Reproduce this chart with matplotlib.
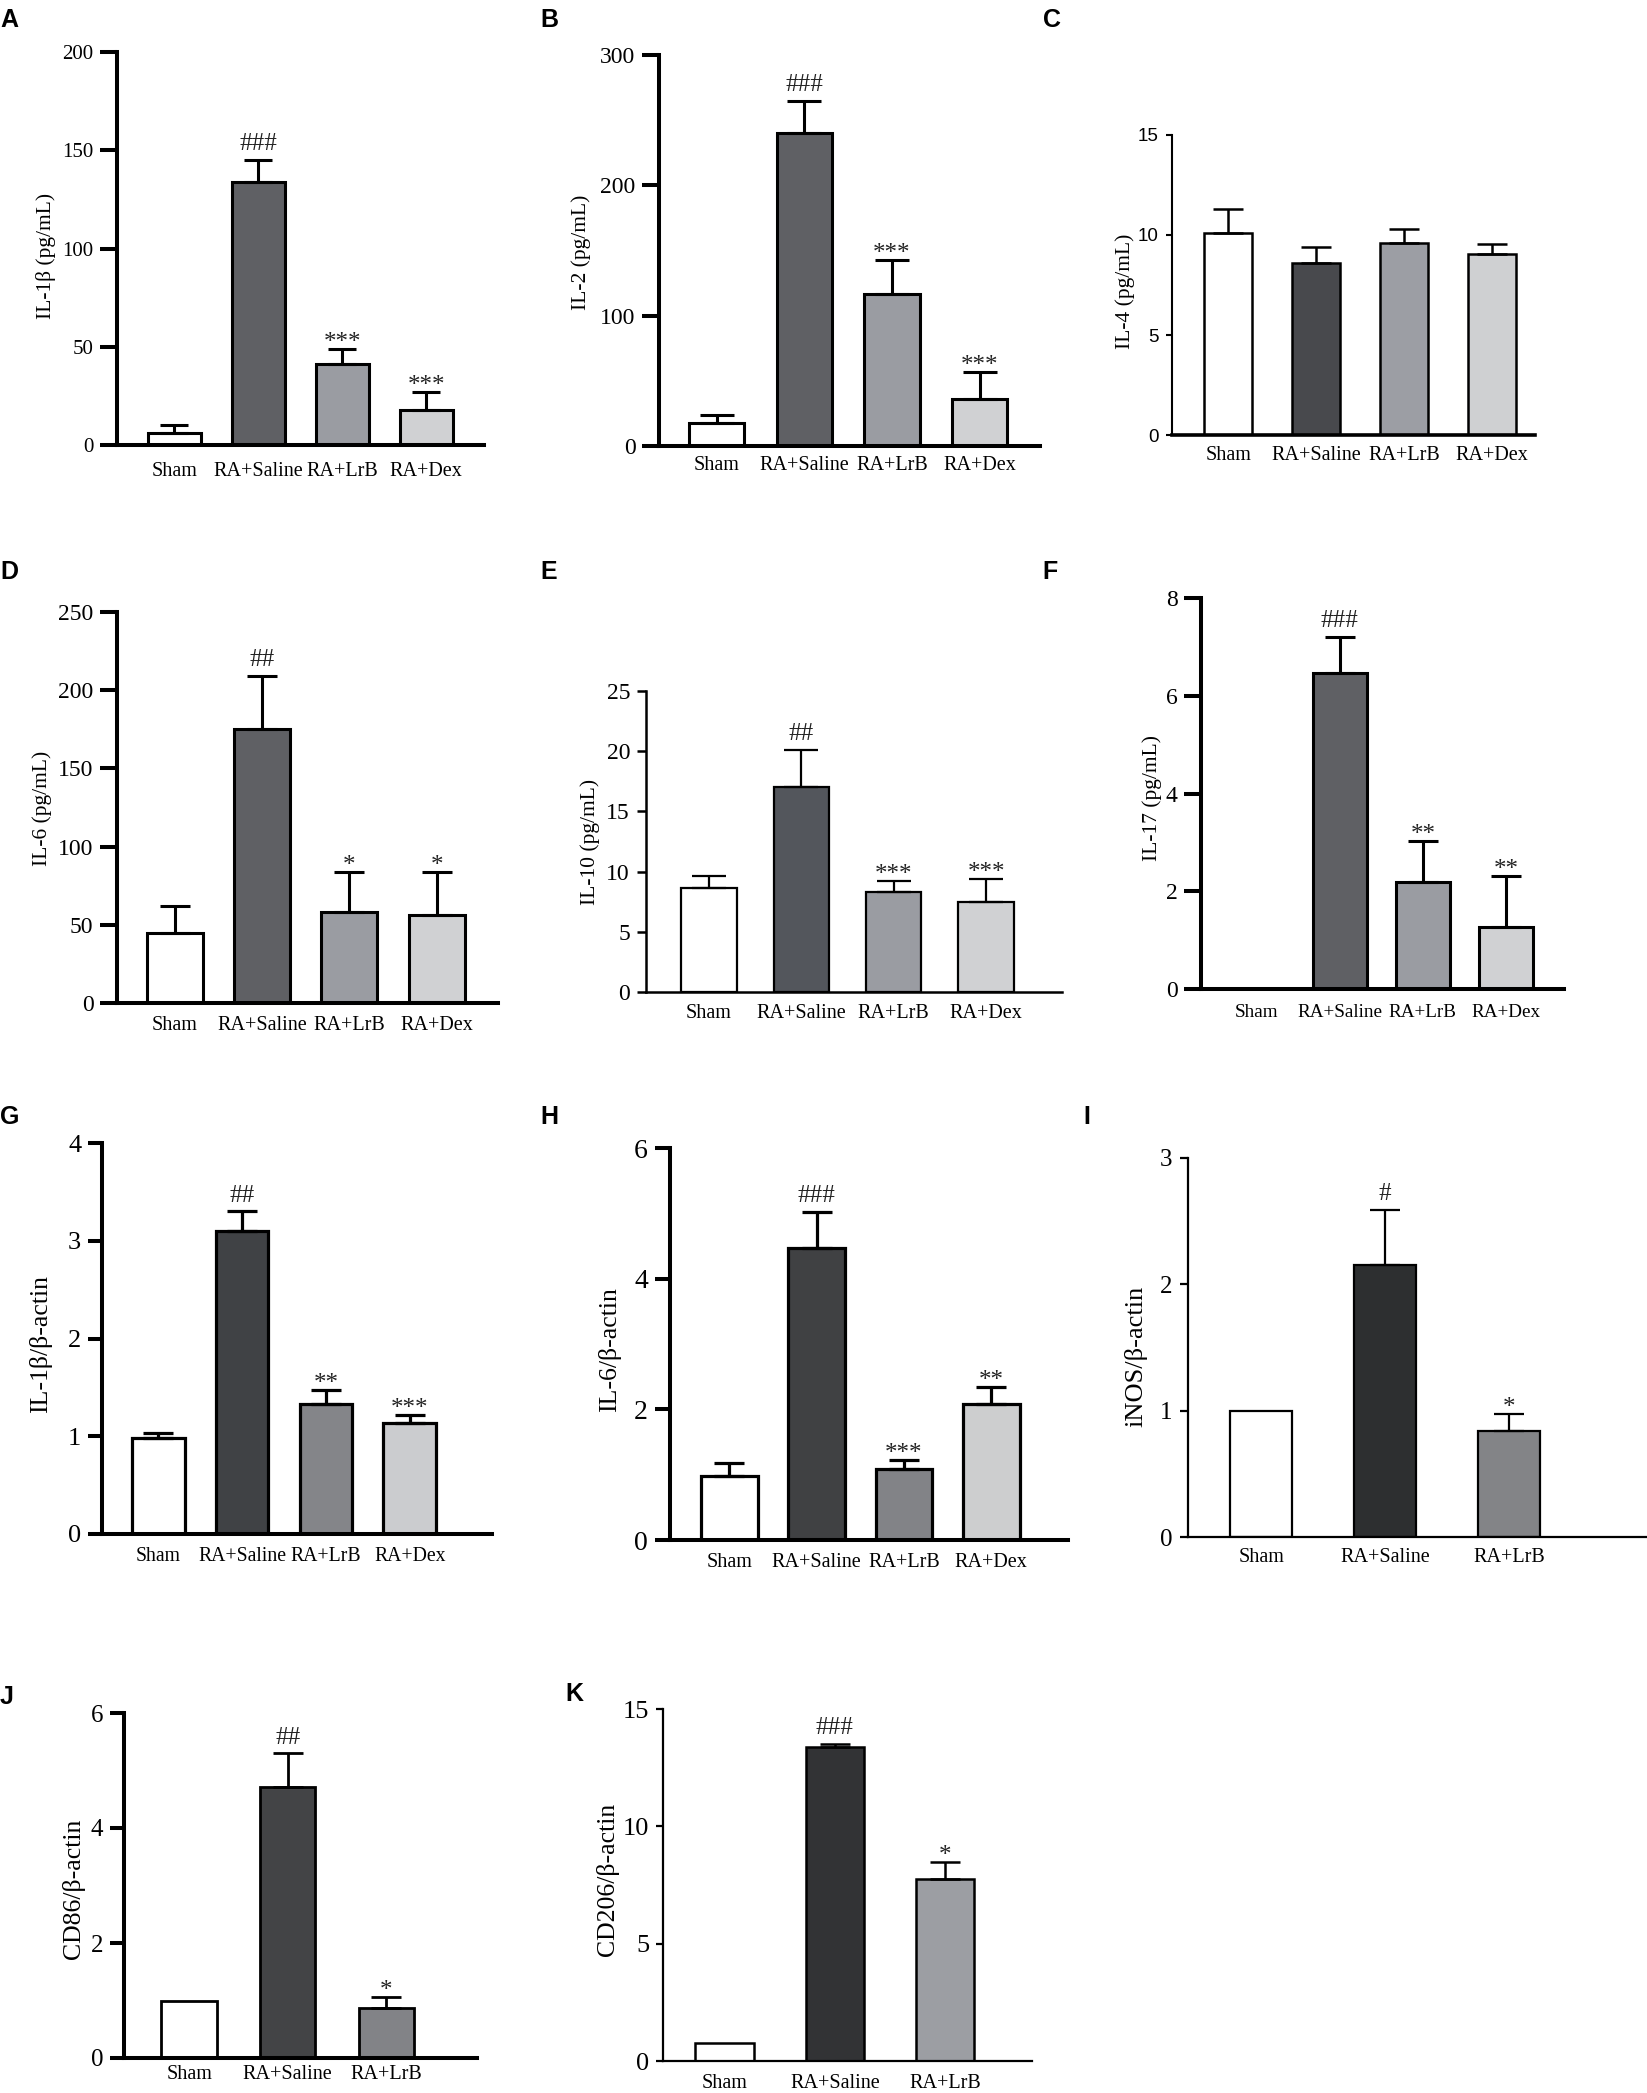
import numpy as np
import matplotlib
matplotlib.use("Agg")
import matplotlib.pyplot as plt

plt.rcParams['font.family'] = ['Liberation Serif', 'DejaVu Serif']

# ---- data ----
groups4 = ["Sham", "RA+Saline", "RA+LrB", "RA+Dex"]
groups3 = ["Sham", "RA+Saline", "RA+LrB"]

il1b_mean = [6, 134, 41, 18]
il1b_err = [4, 11, 8, 9]
il1b_sig = ["", "###", "***", "***"]

il2_mean = [18, 240, 117, 36]
il2_err = [6, 25, 26, 21]
il2_sig = ["", "###", "***", "***"]

il4_mean = [10.1, 8.6, 9.6, 9.05]
il4_err = [1.2, 0.8, 0.7, 0.5]
il4_sig = ["", "", "", ""]

il6_mean = [45, 175, 58, 56]
il6_err = [17, 34, 26, 28]
il6_sig = ["", "##", "*", "*"]

il10_mean = [8.6, 17.0, 8.3, 7.5]
il10_err = [1.0, 3.1, 0.9, 1.9]
il10_sig = ["", "##", "***", "***"]

il17_mean = [0, 6.46, 2.19, 1.27]
il17_err = [0, 0.74, 0.84, 1.04]
il17_sig = ["", "###", "**", "**"]

il1b_rel_mean = [0.98, 3.10, 1.33, 1.14]
il1b_rel_err = [0.05, 0.20, 0.14, 0.08]
il1b_rel_sig = ["", "##", "**", "***"]

il6_rel_mean = [0.98, 4.47, 1.09, 2.08]
il6_rel_err = [0.20, 0.55, 0.13, 0.26]
il6_rel_sig = ["", "###", "***", "**"]

inos_mean = [1.0, 2.15, 0.84]
inos_err = [0, 0.44, 0.13]
inos_sig = ["", "#", "*"]

cd86_mean = [1.0, 4.71, 0.87]
cd86_err = [0, 0.59, 0.19]
cd86_sig = ["", "##", "*"]

cd206_mean = [0.77, 13.38, 7.75]
cd206_err = [0, 0.12, 0.73]
cd206_sig = ["", "###", "*"]

W, H = 1647, 2093
fig = plt.figure(figsize=(W / 100, H / 100), dpi=100)

gray_a = ["white", "#5f6064", "#9a9ca2", "#d0d1d3"]

# letter, ylabel, data, ticks, box (left, top, right, zero) px, xlim, bar width,
# colors, spine lw, bar lw, tick length, tick font, label centre, cap size, x label pad
panels = [
    dict(letter="A", lpos=(0, 8), ylabel="IL-1β (pg/mL)", labc=(46, 256), g=groups4,
         m=il1b_mean, e=il1b_err, s=il1b_sig, ticks=[0, 50, 100, 150, 200],
         box=(117, 52, 484, 445), xlim=(-0.68, 3.69), bw=0.63, c=gray_a,
         slw=2.9, blw=2.2, tl=12, tfs=15, lfs=15.5, cs=10, xpad=12),
    dict(letter="B", lpos=(540, 8), ylabel="IL-2 (pg/mL)", labc=(581, 252), g=groups4,
         m=il2_mean, e=il2_err, s=il2_sig, ticks=[0, 100, 200, 300],
         box=(659, 55, 1040, 446), xlim=(-0.66, 3.69), bw=0.63, c=gray_a,
         slw=2.9, blw=2.2, tl=12, tfs=17, lfs=15.5, cs=12, xpad=7),
    dict(letter="C", lpos=(1043, 8), ylabel="IL-4 (pg/mL)", labc=(1125, 291), g=groups4,
         m=il4_mean, e=il4_err, s=il4_sig, ticks=[0, 5, 10, 15],
         box=(1172, 135, 1535, 435), xlim=(-0.64, 3.49), bw=0.55,
         c=["white", "#48494d", "#9c9ea4", "#cfd0d2"],
         slw=1.5, blw=1.8, tl=4.5, tfs=13.5, lfs=15.5, cs=11, xpad=8, sans=True),
    dict(letter="D", lpos=(0, 560), ylabel="IL-6 (pg/mL)", labc=(42, 808), g=groups4,
         m=il6_mean, e=il6_err, s=il6_sig, ticks=[0, 50, 100, 150, 200, 250],
         box=(117, 612, 498, 1003), xlim=(-0.66, 3.70), bw=0.64, c=gray_a,
         slw=2.9, blw=2.2, tl=12, tfs=17, lfs=15.5, cs=11, xpad=9.5),
    dict(letter="E", lpos=(540, 560), ylabel="IL-10 (pg/mL)", labc=(590, 842), g=groups4,
         m=il10_mean, e=il10_err, s=il10_sig, ticks=[0, 5, 10, 15, 20, 25],
         box=(646, 691, 1062, 992), xlim=(-0.68, 3.82), bw=0.60,
         c=["white", "#53565c", "#9a9ca2", "#d0d1d3"],
         slw=1.8, blw=1.6, tl=6.5, tfs=17, lfs=15.5, cs=12, xpad=9),
    dict(letter="F", lpos=(1042, 560), ylabel="IL-17 (pg/mL)", labc=(1152, 798), g=groups4,
         m=il17_mean, e=il17_err, s=il17_sig, ticks=[0, 2, 4, 6, 8],
         box=(1201, 598, 1564, 989), xlim=(-0.67, 3.70), bw=0.65, c=gray_a,
         slw=2.9, blw=2.2, tl=12, tfs=17, lfs=15.5, cs=10.5, xpad=11, xfs=13.8),
    dict(letter="G", lpos=(0, 1105), ylabel="IL-1β/β-actin", labc=(41, 1344), g=groups4,
         m=il1b_rel_mean, e=il1b_rel_err, s=il1b_rel_sig, ticks=[0, 1, 2, 3, 4],
         box=(102, 1143, 492, 1534), xlim=(-0.67, 3.98), bw=0.63,
         c=["white", "#404245", "#848589", "#cbcccf"],
         slw=2.9, blw=2.3, tl=10, tfs=19, lfs=18.5, cs=11, xpad=9.5, xfs=14.2),
    dict(letter="H", lpos=(540, 1105), ylabel="IL-6/β-actin", labc=(610, 1350), g=groups4,
         m=il6_rel_mean, e=il6_rel_err, s=il6_rel_sig, ticks=[0, 2, 4, 6],
         box=(670, 1148, 1068, 1540), xlim=(-0.68, 3.88), bw=0.65,
         c=["white", "#404143", "#828387", "#cdcecf"],
         slw=2.9, blw=2.3, tl=11, tfs=20, lfs=18.5, cs=11, xpad=9.5),
    dict(letter="I", lpos=(1083, 1105), ylabel="iNOS/β-actin", labc=(1136, 1356), g=groups3,
         m=inos_mean, e=inos_err, s=inos_sig, ticks=[0, 1, 2, 3],
         box=(1188, 1158, 1647, 1537), xlim=(-0.59, 3.11), bw=0.50,
         c=["white", "#2d2f30", "#838487"],
         slw=1.6, blw=1.6, tl=6, tfs=18, lfs=19, cs=11, xpad=8),
    dict(letter="J", lpos=(0, 1685), ylabel="CD86/β-actin", labc=(74, 1889), g=groups3,
         m=cd86_mean, e=cd86_err, s=cd86_sig, ticks=[0, 2, 4, 6],
         box=(124, 1713, 477, 2058), xlim=(-0.66, 2.92), bw=0.56,
         c=["white", "#434446", "#828387"],
         slw=2.9, blw=2.0, tl=10, tfs=18, lfs=18.5, cs=11, xpad=5),
    dict(letter="K", lpos=(565, 1682), ylabel="CD206/β-actin", labc=(608, 1879), g=groups3,
         m=cd206_mean, e=cd206_err, s=cd206_sig, ticks=[0, 5, 10, 15],
         box=(663, 1709, 1032, 2061), xlim=(-0.56, 2.79), bw=0.53,
         c=["white", "#323335", "#9c9ea3"],
         slw=1.6, blw=1.8, tl=5, tfs=19, lfs=18.5, cs=11, xpad=9.5),
]

for p in panels:
    l, t, r, b = p["box"]
    ax = fig.add_axes([l / W, 1 - b / H, (r - l) / W, (b - t) / H])
    x = np.arange(len(p["g"]))
    m = np.array(p["m"], dtype=float)
    e = np.array(p["e"], dtype=float)

    ax.bar(x, m, width=p["bw"], color=p["c"], edgecolor="black",
           linewidth=p["blw"], zorder=2)
    k = e > 0
    ax.errorbar(x[k], m[k], yerr=[np.zeros(k.sum()), e[k]], fmt="none",
                ecolor="black", elinewidth=p["blw"], capsize=p["cs"],
                capthick=p["blw"], zorder=3)

    for xi, top, mark in zip(x, m + e, p["s"]):
        if not mark:
            continue
        dy = 7 if "#" in mark else 0
        ax.annotate(mark, (xi, top), xytext=(0, dy), textcoords="offset points",
                    ha="center", va="baseline", fontsize=18, color="#222222")

    ax.set_xlim(*p["xlim"])
    ax.set_ylim(0, p["ticks"][-1])
    ax.set_yticks(p["ticks"])
    ax.set_xticks(x)
    ax.set_xticklabels(p["g"], fontsize=p.get("xfs", 14.5))
    if p.get("sans"):
        ax.set_yticklabels([str(v) for v in p["ticks"]], fontsize=p["tfs"],
                           family="Liberation Sans")
    else:
        ax.set_yticklabels([str(v) for v in p["ticks"]], fontsize=p["tfs"])

    for side in ("top", "right"):
        ax.spines[side].set_visible(False)
    ax.spines["left"].set_linewidth(p["slw"])
    ax.spines["bottom"].set_linewidth(max(p["slw"], 2.6) if p.get("sans") else p["slw"])
    ax.tick_params(axis="y", direction="out", length=p["tl"], width=p["slw"], pad=5)
    ax.tick_params(axis="x", length=0, pad=p["xpad"])
    ax.patch.set_visible(False)

    fig.text(p["labc"][0] / W, 1 - p["labc"][1] / H, p["ylabel"], rotation=90,
             ha="center", va="center", fontsize=p["lfs"])
    fig.text(p["lpos"][0] / W, 1 - p["lpos"][1] / H, p["letter"], ha="left", va="top",
             fontsize=18, fontweight="bold", family="Liberation Sans")

fig.savefig("out.png", dpi=100, facecolor="white")
